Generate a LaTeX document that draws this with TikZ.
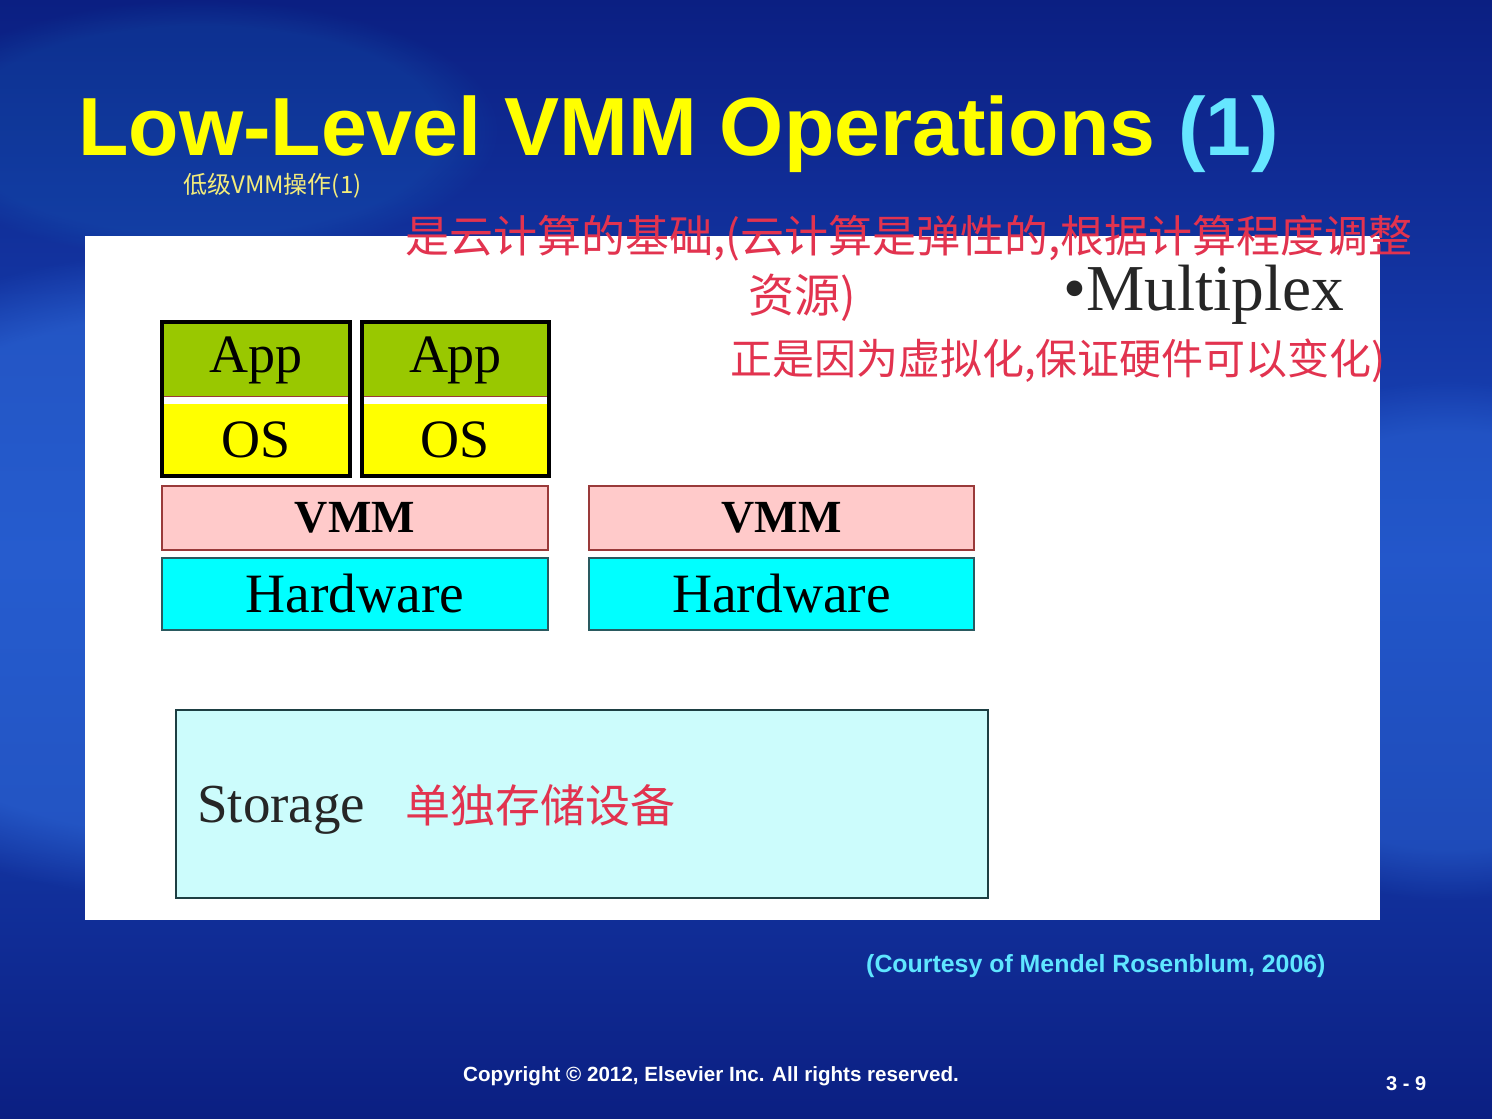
\documentclass[tikz,border=0pt]{standalone}
\usepackage{fontspec}
\usetikzlibrary{fadings}
\setmainfont{Liberation Serif}
\newfontfamily\arialfont{Liberation Sans}
\newfontfamily\cjk{Noto Sans CJK SC}
\definecolor{navy}{HTML}{0B1F82}
\definecolor{midblue}{HTML}{1A48BE}
\definecolor{glow}{HTML}{2E6ADA}
\definecolor{titleyellow}{HTML}{FFFF00}
\definecolor{titlecyan}{HTML}{66E6FF}
\definecolor{subyellow}{HTML}{F4EC7A}
\definecolor{courtesy}{HTML}{5FE6FF}
\definecolor{appgreen}{HTML}{99C800}
\definecolor{osyellow}{HTML}{FFFF00}
\definecolor{vmmpink}{HTML}{FFCACA}
\definecolor{vmmedge}{HTML}{9A3A3A}
\definecolor{hwcyan}{HTML}{00FFFF}
\definecolor{hwedge}{HTML}{2A5A60}
\definecolor{storecyan}{HTML}{CCFCFC}
\definecolor{inkred}{HTML}{E2334F}
\begin{document}
\begin{tikzpicture}[x=1pt,y=-1pt,
  layer/.style={rectangle,inner sep=0pt,outer sep=0pt},
  serifbig/.style={font=\fontsize{54}{54}\selectfont},
  ink/.style={text=inkred,inner sep=0pt,anchor=base west},
  frame/.style={draw=black,line width=4pt},
]
\useasboundingbox (0,0) rectangle (1492,1119);
% slide background with soft highlights
\shade[top color=navy,bottom color=navy,middle color=midblue] (0,0) rectangle (1492,1119);
\fill[glow,opacity=0.6,path fading=circle with fuzzy edge 20 percent] (-300,250) rectangle (700,900);
\fill[glow,opacity=0.45,path fading=circle with fuzzy edge 20 percent] (1150,380) rectangle (1750,900);
\fill[glow!60!cyan,opacity=0.12,path fading=circle with fuzzy edge 20 percent] (-100,0) rectangle (500,260);

% title
\node[anchor=base west,inner sep=0pt,font=\arialfont\bfseries\fontsize{82.5}{82.5}\selectfont] (title) at (78,155)
  {\textcolor{titleyellow}{Low-Level VMM Operations} \textcolor{titlecyan}{(1)}};
\node[anchor=base west,inner sep=0pt,text=subyellow,font=\cjk\fontsize{24}{24}\selectfont] (subtitle) at (183,193) {低级VMM操作(1)};

% white panel
\node[layer,fill=white,minimum width=1295,minimum height=684,anchor=north west] (panel) at (85,236) {};

% guest machines on the first host
\node[layer,fill=appgreen,minimum width=188,minimum height=76,serifbig] (app1) at (256,360) {App};
\node[layer,fill=white,draw=vmmedge,line width=0.8pt,minimum width=188,minimum height=8] (gap1) at (256,400) {};
\node[layer,fill=osyellow,minimum width=188,minimum height=72,serifbig] (os1) at (256,440) {OS};
\draw[frame] (app1.north west) rectangle (os1.south east);

\node[layer,fill=appgreen,minimum width=187,minimum height=76,serifbig] (app2) at (455.5,360) {App};
\node[layer,fill=white,draw=vmmedge,line width=0.8pt,minimum width=187,minimum height=8] (gap2) at (455.5,400) {};
\node[layer,fill=osyellow,minimum width=187,minimum height=72,serifbig] (os2) at (455.5,440) {OS};
\draw[frame] (app2.north west) rectangle (os2.south east);

% host layers
\node[layer,fill=vmmpink,draw=vmmedge,line width=1.5pt,minimum width=386,minimum height=64,font=\bfseries\fontsize{46}{46}\selectfont] (vmm1) at (355,518) {VMM};
\node[layer,fill=hwcyan,draw=hwedge,line width=1.5pt,minimum width=386,minimum height=72,font=\fontsize{55.5}{55.5}\selectfont] (hw1) at (355,594) {Hardware};
\node[layer,fill=vmmpink,draw=vmmedge,line width=1.5pt,minimum width=385,minimum height=64,font=\bfseries\fontsize{46}{46}\selectfont] (vmm2) at (781.5,518) {VMM};
\node[layer,fill=hwcyan,draw=hwedge,line width=1.5pt,minimum width=385,minimum height=72,font=\fontsize{55.5}{55.5}\selectfont] (hw2) at (781.5,594) {Hardware};

% shared storage
\node[layer,fill=storecyan,draw=hwedge!70!black,line width=2pt,minimum width=812,minimum height=188] (storage) at (582,804) {};
\node[anchor=base west,inner sep=0pt,font=\fontsize{55}{55}\selectfont,text=black!85] (storelabel) at (197,822) {Storage};

\node[anchor=base west,inner sep=0pt,font=\fontsize{65.5}{65.5}\selectfont,text=black!85] (multiplex) at (1063,310) {\textbullet Multiplex};

% handwritten notes
\node[ink,font=\cjk\fontsize{44}{44}\selectfont] (note1) at (405,252) {是云计算的基础,(云计算是弹性的,根据计算程度调整};
\node[ink,font=\cjk\fontsize{46}{46}\selectfont] (note2) at (748,312) {资源)};
\node[ink,font=\cjk\fontsize{42}{42}\selectfont] (note3) at (730,374) {正是因为虚拟化,保证硬件可以变化)};
\node[ink,font=\cjk\fontsize{45}{45}\selectfont] (note4) at (405,822) {单独存储设备};

% credits and footer
\node[anchor=base west,inner sep=0pt,text=courtesy,font=\arialfont\bfseries\fontsize{24.9}{24.9}\selectfont] (credit) at (866,972) {(Courtesy of Mendel Rosenblum, 2006)};
\node[anchor=base west,inner sep=0pt,text=white,font=\arialfont\bfseries\fontsize{20.6}{20.6}\selectfont] (copyright) at (463,1081) {Copyright \textcopyright{} 2012, Elsevier Inc. All rights reserved.};
\node[anchor=base west,inner sep=0pt,text=white,font=\arialfont\bfseries\fontsize{20}{20}\selectfont] (pageno) at (1386,1090) {3 - 9};
\end{tikzpicture}
\end{document}
